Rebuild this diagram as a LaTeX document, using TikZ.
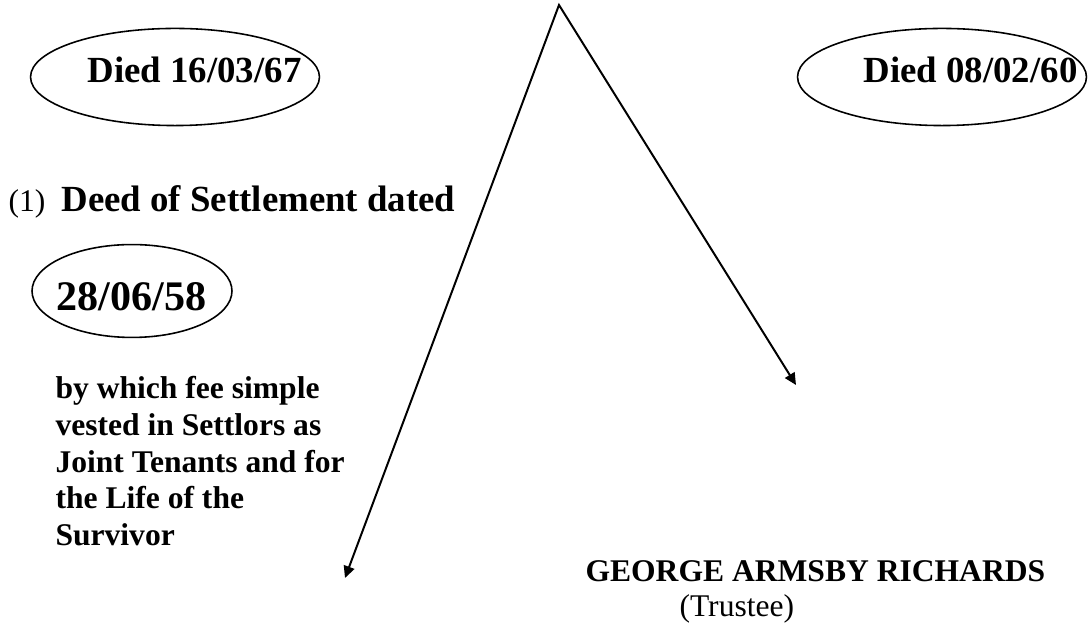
\documentclass[tikz,border=0pt]{standalone}
\usepackage{fontspec}
\setmainfont{Liberation Serif}
\usepackage{tikz}
\usetikzlibrary{arrows.meta, shapes.geometric}

\begin{document}
\begin{tikzpicture}[x=0.38pt, y=-0.38pt,
  oval/.style={draw, ellipse, line width=0.6pt, inner sep=0pt},
  txt/.style={inner sep=0pt, anchor=base west},
  big/.style={font=\fontsize{14}{16.8}\selectfont\bfseries},
  mid/.style={font=\fontsize{12}{13.95}\selectfont\bfseries},
  plain/.style={font=\fontsize{12}{13.95}\selectfont},
  link/.style={line width=0.75pt, {Triangle[length=4.5pt, width=4.2pt]}-{Triangle[length=4.5pt, width=4.2pt]}}]
  \useasboundingbox (0,0) rectangle (1089,626);
  % Ovals
  \node[oval, minimum width=109.8pt, minimum height=36.9pt] (ovalA) at (175,77) {};
  \node[oval, minimum width=109.8pt, minimum height=36.9pt] (ovalB) at (942,77) {};
  \node[oval, minimum width=76pt, minimum height=35.3pt] (ovalC) at (132,291) {};
  \node[txt, big] (diedA) at (87,83) {Died 16/03/67};
  \node[txt, big] (diedB) at (863,83) {Died 08/02/60};
  \node[txt, font=\fontsize{16}{19.2}\selectfont\bfseries] (dated) at (56,311) {28/06/58};
  % Deed
  \node[txt, plain] (num) at (8,212) {(1)};
  \node[txt, big] (deed) at (61,212) {Deed of Settlement dated};
  \node[mid, inner sep=0pt, anchor=north west, align=left] (vested) at (55,376)
    {by which fee simple\\vested in Settlors as\\Joint Tenants and for\\the Life of the\\Survivor};
  % Trustee
  \node[txt, mid] (trustee) at (585,582) {GEORGE ARMSBY RICHARDS};
  \node[txt, plain] (role) at (679,617) {(Trustee)};
  % Arrows
  \coordinate (apex) at (559,5);
  \coordinate (tipL) at (345,578);
  \coordinate (tipR) at (796,385);
  \draw[link] (tipL) -- (apex) -- (tipR);
\end{tikzpicture}
\end{document}
